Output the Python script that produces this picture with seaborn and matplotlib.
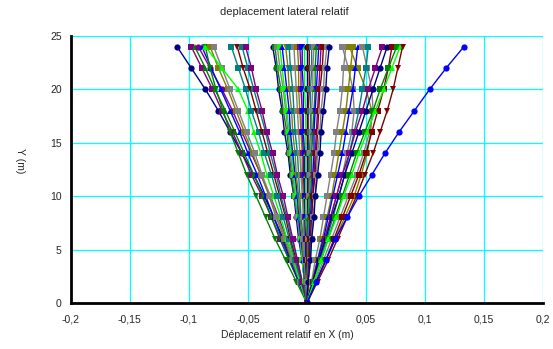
import numpy as np
import pandas as pd
import seaborn as sns
from matplotlib import pyplot as plt
from matplotlib.ticker import FixedLocator

# heights (m) where the displacement was sampled
heights = [0, 2, 4, 6, 8, 10, 12, 14, 16, 18, 20, 22, 24]

# relative lateral displacement per run, in mm
disp_mm = [
    [0, -6, -13, -20, -28, -36, -45, -55, -65, -75, -86, -98, -110],
    [0, -7, -15, -23, -30, -38, -47, -55, -63, -72, -80, -89, -98],
    [0, -7, -15, -22, -30, -37, -45, -53, -61, -69, -78, -86, -95],
    [0, -5, -11, -17, -24, -31, -39, -47, -55, -63, -72, -82, -92],
    [0, -7, -14, -21, -28, -35, -42, -50, -57, -65, -73, -81, -89],
    [0, -9, -18, -27, -35, -43, -51, -58, -65, -71, -77, -82, -86],
    [0, -6, -13, -19, -26, -32, -39, -46, -53, -60, -67, -75, -82],
    [0, -6, -12, -18, -25, -31, -38, -44, -51, -58, -65, -72, -79],
    [0, -6, -11, -17, -22, -28, -34, -39, -45, -50, -58, -72, -86],
    [0, -5, -10, -15, -20, -25, -30, -36, -41, -47, -52, -58, -64],
    [0, -4, -9, -14, -18, -23, -28, -33, -38, -43, -48, -54, -59],
    [0, -4, -8, -13, -17, -22, -26, -31, -35, -40, -45, -50, -55],
    [0, -4, -8, -12, -16, -20, -25, -29, -34, -38, -43, -47, -52],
    [0, -2, -4, -7, -9, -11, -14, -16, -19, -21, -24, -26, -29],
    [0, -2, -4, -6, -8, -11, -13, -15, -17, -20, -22, -25, -27],
    [0, -2, -4, -6, -8, -10, -12, -14, -16, -18, -20, -23, -25],
    [0, -2, -4, -5, -7, -9, -11, -13, -15, -17, -19, -21, -23],
    [0, -2, -3, -5, -7, -8, -10, -12, -14, -15, -17, -19, -21],
    [0, -1, -3, -4, -6, -7, -9, -10, -12, -13, -15, -16, -18],
    [0, -1, -2, -3, -5, -6, -7, -8, -10, -11, -12, -14, -15],
    [0, -1, -2, -3, -3, -4, -5, -6, -7, -8, -9, -10, -11],
    [0, -1, -1, -2, -2, -3, -4, -4, -5, -6, -7, -7, -8],
    [0, 0, -1, -1, -2, -2, -3, -3, -4, -4, -5, -5, -6],
    [0, 0, -1, -1, -1, -2, -2, -2, -3, -3, -3, -4, -4],
    [0, 0, 0, 0, -1, -1, -1, -1, -1, -1, -2, -2, -2],
    [0, 0, 0, 0, 0, 0, 0, 0, 0, 0, 0, 0, 0],
    [0, 0, 0, 0, 1, 1, 1, 1, 1, 1, 2, 2, 2],
    [0, 0, 1, 1, 1, 2, 2, 2, 3, 3, 3, 4, 4],
    [0, 0, 1, 1, 2, 2, 3, 3, 4, 4, 5, 5, 6],
    [0, 1, 1, 2, 2, 3, 4, 4, 5, 6, 7, 7, 8],
    [0, 1, 2, 2, 3, 4, 5, 6, 6, 7, 8, 9, 10],
    [0, 1, 2, 3, 4, 5, 6, 7, 8, 9, 10, 11, 12],
    [0, 1, 2, 3, 4, 5, 7, 8, 9, 10, 11, 13, 14],
    [0, 1, 3, 4, 5, 7, 8, 9, 11, 12, 14, 15, 17],
    [0, 1, 3, 4, 6, 7, 9, 11, 12, 14, 16, 17, 19],
    [0, 5, 10, 15, 20, 25, 30, 34, 38, 40, 39, 35, 30],
    [0, 4, 7, 11, 14, 17, 20, 23, 25, 28, 30, 31, 33],
    [0, 8, 16, 24, 32, 40, 46, 51, 54, 55, 50, 43, 36],
    [0, 4, 9, 13, 17, 21, 24, 27, 30, 33, 35, 37, 39],
    [0, 5, 9, 14, 18, 22, 26, 30, 33, 36, 39, 41, 43],
    [0, 7, 14, 21, 28, 35, 42, 48, 53, 56, 55, 51, 47],
    [0, 6, 11, 17, 22, 27, 32, 36, 40, 44, 47, 50, 52],
    [0, 5, 10, 15, 20, 25, 30, 36, 41, 47, 52, 58, 64],
    [0, 5, 10, 16, 21, 27, 32, 38, 44, 50, 56, 62, 68],
    [0, 8, 16, 23, 30, 37, 44, 50, 55, 60, 65, 69, 72],
    [0, 6, 12, 18, 24, 30, 36, 42, 49, 56, 62, 69, 76],
    [0, 6, 12, 18, 25, 31, 38, 44, 51, 58, 65, 72, 79],
    [0, 9, 18, 26, 34, 42, 49, 56, 62, 68, 73, 77, 81],
    [0, 8, 16, 24, 34, 44, 55, 66, 78, 91, 104, 118, 133],
]

run_colors = [
    "#000080", "#800080", "#008000", "#800080", "#0000FF", "#008000", "#808000",
    "#808080", "#00FF00", "#008080", "#800000", "#008080", "#800080", "#000080",
    "#008000", "#808080", "#00FF00", "#0000FF", "#808000", "#008080", "#808080",
    "#808000", "#800080", "#0000FF", "#00FF00", "#000080", "#800000", "#008080",
    "#808080", "#008000", "#0000FF", "#800080", "#800000", "#808080", "#000080",
    "#808080", "#808080", "#808000", "#808000", "#0000FF", "#808080", "#008080",
    "#800080", "#000080", "#800000", "#008000", "#00FF00", "#800000", "#0000FF",
]
run_markers = [
    "o", "s", "^", "o", "^", "v", "s", "s", "^", "s", "v", "s", "s", "o",
    "s", "s", "s", "^", "v", "s", "s", "s", "s", "s", "^", "o", "s", "s",
    "s", "^", "v", "s", "s", "s", "o", "s", "s", "s", "s", "^", "s", "s",
    "s", "o", "s", "s", "^", "v", "o",
]

x_ticks = [-0.2, -0.15, -0.1, -0.05, 0, 0.05, 0.1, 0.15, 0.2]
x_tick_labels = ["-0,2", "-0,15", "-0,1", "-0,05", "0", "0,05", "0,1", "0,15", "0,2"]
y_ticks = [0, 5, 10, 15, 20, 25]

rows = []
for i, run in enumerate(disp_mm):
    for h, d in zip(heights, run):
        rows.append({"run": f"r{i}", "x": d / 1000.0, "y": h})
df = pd.DataFrame(rows)

sns.set_style("white")
plt.rcParams["font.family"] = ["Liberation Sans", "DejaVu Sans"]

fig = plt.figure(figsize=(5.53, 3.49), dpi=100)
ax = fig.add_axes([0.128, 0.132, 0.854, 0.765])

sns.lineplot(data=df, x="x", y="y", hue="run", style="run",
             palette=run_colors, markers=run_markers, dashes=False,
             sort=False, estimator=None, legend=False,
             linewidth=1.0, markersize=4.5, markeredgewidth=0, ax=ax)

ax.set_xlim(-0.2, 0.2)
ax.set_ylim(0, 25)
ax.xaxis.set_major_locator(FixedLocator(x_ticks))
ax.set_xticklabels(x_tick_labels)
ax.yaxis.set_major_locator(FixedLocator(y_ticks))
ax.grid(True, color="#00FFFF", linewidth=0.9)
ax.set_axisbelow(True)

for side in ["top", "right"]:
    ax.spines[side].set_visible(False)
for side in ["left", "bottom"]:
    ax.spines[side].set_color("black")
    ax.spines[side].set_linewidth(2)
    ax.spines[side].set_zorder(5)
ax.tick_params(direction="inout", length=7, width=1.5, color="black",
               labelsize=7.5, pad=3)
ax.tick_params(axis="x", pad=5)
ax.set_xlabel("")
ax.set_ylabel("")

fig.text(0.514, 0.965, "deplacement lateral relatif", ha="center", va="center", fontsize=8)
fig.text(0.52, 0.04, "Déplacement relatif en X (m)", ha="center", va="center", fontsize=7.5)
fig.text(0.037, 0.54, "Y (m)", ha="center", va="center", rotation=270, fontsize=7.5)

fig.savefig("out.png", dpi=100)
